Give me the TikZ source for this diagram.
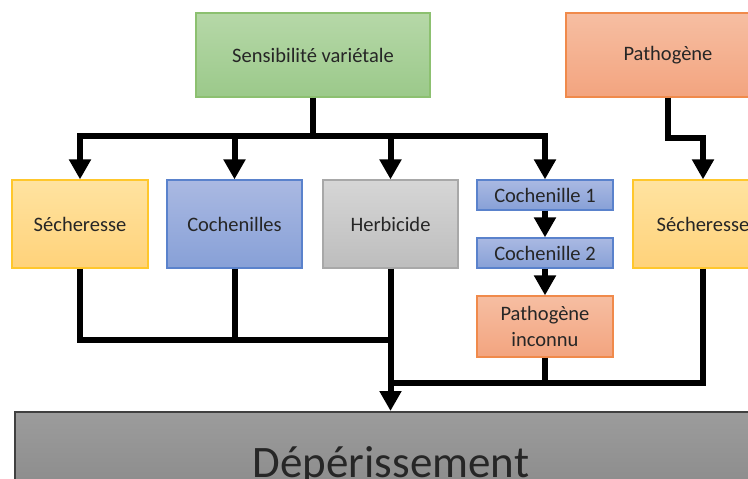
\documentclass[tikz,border=0pt]{standalone}
\usepackage{fontspec}
\setmainfont{Carlito}
\usetikzlibrary{arrows.meta}

\definecolor{greentop}{HTML}{B6D8A8}
\definecolor{greenbot}{HTML}{9BC98A}
\definecolor{greenline}{HTML}{8CC070}
\definecolor{salmtop}{HTML}{F6BEA2}
\definecolor{salmbot}{HTML}{F3A47F}
\definecolor{salmline}{HTML}{F08A4B}
\definecolor{yeltop}{HTML}{FFE3A0}
\definecolor{yelbot}{HTML}{FFD27A}
\definecolor{yelline}{HTML}{FFC72C}
\definecolor{bluetop}{HTML}{AAB9E2}
\definecolor{bluebot}{HTML}{87A0D7}
\definecolor{blueline}{HTML}{5A82CC}
\definecolor{greytop}{HTML}{D6D6D6}
\definecolor{greybot}{HTML}{BDBDBD}
\definecolor{greyline}{HTML}{A8A8A8}
\definecolor{deptop}{HTML}{9C9C9C}
\definecolor{depbot}{HTML}{858585}

\begin{document}
\begin{tikzpicture}[x=1pt,y=-1pt,
    every node/.style={inner sep=0pt, align=center, text=black!85,
      font=\fontsize{20.5}{26}\selectfont},
    box/.style={draw, line width=1.2pt, minimum width=136pt, minimum height=88pt},
    greenbox/.style={box, draw=greenline, top color=greentop, bottom color=greenbot},
    salmbox/.style={box, draw=salmline, top color=salmtop, bottom color=salmbot},
    yelbox/.style={box, draw=yelline, top color=yeltop, bottom color=yelbot},
    bluebox/.style={box, draw=blueline, top color=bluetop, bottom color=bluebot},
    greybox/.style={box, draw=greyline, top color=greytop, bottom color=greybot},
    link/.style={line width=6pt, line join=miter},
    arrow/.style={link, -{Triangle[length=20pt,width=21pt]}}]
  \useasboundingbox (0,0) rectangle (748,479);
  \clip (0,0) rectangle (748,479);

  % top row
  \node[greenbox, minimum width=234pt, minimum height=84pt] (sens) at (313,55) {Sensibilité variétale};
  \node[salmbox, minimum width=204pt, minimum height=84pt] (patho) at (668,55) {Pathogène};

  % middle row
  \node[yelbox] (sech) at (80,224) {Sécheresse};
  \node[bluebox, minimum width=135pt] (coch) at (234.5,224) {Cochenilles};
  \node[greybox, minimum width=135pt] (herb) at (390.5,224) {Herbicide};
  \node[bluebox, minimum height=30pt] (coch1) at (545,195) {Cochenille 1};
  \node[bluebox, minimum height=30pt] (coch2) at (545,253) {Cochenille 2};
  \node[salmbox, minimum height=61pt] (pathinc) at (545,326.5) {Pathogène\\inconnu};
  \node[yelbox, minimum width=140pt] (sech2) at (703,224) {Sécheresse};

  % bottom
  \node[draw=black!75, line width=1.5pt, top color=deptop, bottom color=depbot,
    minimum width=752pt, minimum height=110pt, text height=32pt, text depth=10pt,
    font=\fontsize{45}{50}\selectfont, anchor=north] (deper) at (391,411) {Dépérissement};

  % links
  \coordinate (bar) at (313,136);
  \coordinate (bend) at (668,138);
  \coordinate (joinl) at (392,340);
  \coordinate (joinr) at (392,383);
  \draw[link] (sens.south) -- (bar);
  \draw[arrow] (bar) -| (sech.north);
  \draw[arrow] (bar) -| (coch.north);
  \draw[arrow] (bar) -| (herb.north);
  \draw[arrow] (bar) -| (coch1.north);
  \draw[arrow] (patho.south) -- (bend) -| (sech2.north);
  \draw[arrow] (coch1) -- (coch2);
  \draw[arrow] (coch2) -- (pathinc);
  \draw[link] (sech.south) |- (joinl);
  \draw[link] (coch.south) -- (coch.south |- joinl);
  \draw[link] (sech2.south) |- (joinr);
  \draw[link] (pathinc.south) -- (pathinc.south |- joinr);
  \draw[arrow] (herb.south) -- (herb.south |- deper.north);
\end{tikzpicture}
\end{document}
